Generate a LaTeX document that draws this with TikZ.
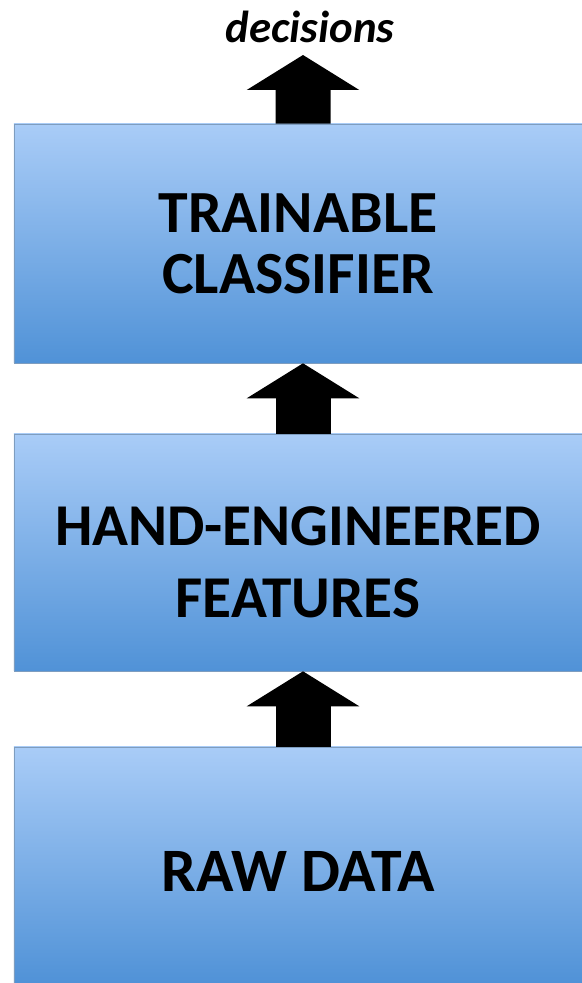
\documentclass[tikz,border=0pt]{standalone}
\usepackage{fontspec}
\setmainfont{Carlito}
\usetikzlibrary{arrows.meta}
\definecolor{boxtop}{HTML}{A9CCF7}
\definecolor{boxbot}{HTML}{5092D7}
\definecolor{boxedge}{HTML}{7E9DBF}
\begin{document}
\begin{tikzpicture}[x=1bp,y=1bp,
  layer/.style={rectangle, minimum width=568bp, inner sep=0pt, top color=boxtop, bottom color=boxbot, draw=boxedge, line width=0.6bp, align=center, font=\bfseries\fontsize{60}{61}\selectfont},
  flow/.style={draw, line width=55bp, -{Triangle[length=35bp,width=111bp]}}]
\useasboundingbox (0,0) rectangle (582,983);
\node[layer, minimum height=239bp] (clf) at (298,739.5) {TRAINABLE\\CLASSIFIER};
\node[layer, minimum height=237bp, font=\bfseries\fontsize{59.5}{72}\selectfont] (feat) at (298,430.5) {\rule{0pt}{58bp}HAND-ENGINEERED\\FEATURES};
\node[layer, minimum height=236bp, text height=54bp, text depth=0pt, font=\bfseries\fontsize{62}{62}\selectfont] (raw) at (298,118) {RAW DATA};
\node[anchor=base, inner sep=0pt, font=\bfseries\itshape\fontsize{45}{45}\selectfont] (dec) at (310,940) {decisions};
\coordinate (out) at (303,928);

\path[flow] ([xshift=5bp]raw.north) -- ([xshift=5bp]feat.south);
\path[flow] ([xshift=5bp]feat.north) -- ([xshift=5bp]clf.south);
\path[flow] ([xshift=5bp]clf.north) -- (out);
\end{tikzpicture}
\end{document}
